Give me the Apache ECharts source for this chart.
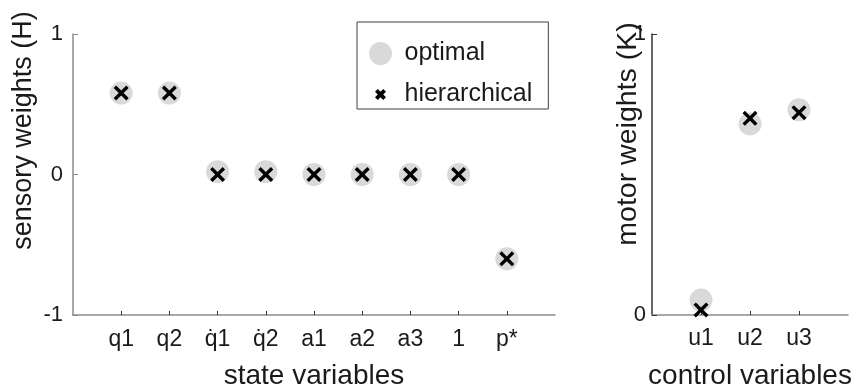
<!DOCTYPE html>
<html><head><meta charset="utf-8">
<script src="https://cdn.jsdelivr.net/npm/echarts@6/dist/echarts.min.js"></script>
<style>html,body{margin:0;padding:0;background:#fff}#c{width:859px;height:389px}</style>
</head><body><div id="c"></div>
<script>
// ---- data ----
const stateVars = ['q1', 'q2', 'q\u03071', 'q\u03072', 'a1', 'a2', 'a3', '1', 'p*'];
const sensoryOptimal = [0.58, 0.58, 0.02, 0.02, 0, 0, 0, 0, -0.6];
const sensoryHier = [0.58, 0.58, 0, 0, 0, 0, 0, 0, -0.6];
const controlVars = ['u1', 'u2', 'u3'];
const motorOptimal = [0.053, 0.68, 0.73];
const motorHier = [0.018, 0.70, 0.72];
const sensoryRange = [-1, 1];
const motorRange = [0, 1];

// ---- styling ----
const FONT = 'Liberation Sans, Arial, sans-serif';
const CROSS = 'path://M0,1.6 L1.6,0 L5,3.4 L8.4,0 L10,1.6 L6.6,5 L10,8.4 L8.4,10 L5,6.6 L1.6,10 L0,8.4 L3.4,5 Z';
const CROSS_ICON = 'path://M-5.5,-5.5 L-5.5,-5.5 M15.5,15.5 L15.5,15.5 M0,2.5 L2.5,0 L5,2.5 L7.5,0 L10,2.5 L7.5,5 L10,7.5 L7.5,10 L5,7.5 L2.5,10 L0,7.5 L2.5,5 Z';
const GREY = '#d9d9d9';
const TXT = '#1a1a1a';

const pad = arr => [' ', ...arr, '  '];
const tickIv = n => (i) => i > 0 && i < n - 1;

const chart = echarts.init(document.getElementById('c'), null, {renderer: 'canvas'});
chart.setOption({
  animation: false,
  backgroundColor: '#fff',
  textStyle: {fontFamily: FONT},
  grid: [
    {left: 73, top: 34, width: 482, height: 281, containLabel: false, outerBoundsMode: 'none'},
    {left: 652, top: 34, width: 196, height: 281, containLabel: false, outerBoundsMode: 'none'}
  ],
  legend: {
    orient: 'vertical', left: 357, top: 22,
    padding: [19, 16, 2, 12],
    itemWidth: 38, itemHeight: 23, itemGap: 16,
    borderColor: '#404040', borderWidth: 1,
    textStyle: {fontSize: 25, color: TXT, fontFamily: FONT, lineHeight: 23},
    data: [{name: 'optimal', icon: 'circle'}, {name: 'hierarchical', icon: CROSS_ICON}]
  },
  xAxis: [
    {
      gridIndex: 0, type: 'category', boundaryGap: false, data: pad(stateVars),
      name: 'state variables', nameLocation: 'middle', nameGap: 47, nameMoveOverlap: false,
      nameTextStyle: {fontSize: 28, color: TXT, fontFamily: FONT},
      axisLine: {onZero: false, lineStyle: {color: '#8c8c8c', width: 1.5}},
      axisTick: {inside: true, length: 4, interval: tickIv(stateVars.length + 2), lineStyle: {color: '#333'}},
      axisLabel: {interval: 0, fontSize: 23, color: TXT, margin: 13, fontFamily: FONT},
      splitLine: {show: false}
    },
    {
      gridIndex: 1, type: 'category', boundaryGap: false, data: pad(controlVars),
      name: 'control variables', nameLocation: 'middle', nameGap: 47, nameMoveOverlap: false,
      nameTextStyle: {fontSize: 28, color: TXT, fontFamily: FONT},
      axisLine: {onZero: false, lineStyle: {color: '#8c8c8c', width: 1.5}},
      axisTick: {inside: true, length: 4, interval: tickIv(controlVars.length + 2), lineStyle: {color: '#333'}},
      axisLabel: {interval: 0, fontSize: 23, color: TXT, margin: 12, fontFamily: FONT},
      splitLine: {show: false}
    }
  ],
  yAxis: [
    {
      gridIndex: 0, type: 'value', min: sensoryRange[0], max: sensoryRange[1], interval: 1,
      name: 'sensory weights (H)', nameLocation: 'middle', nameGap: 36, nameRotate: 90, nameMoveOverlap: false,
      nameTextStyle: {fontSize: 27, color: TXT, fontFamily: FONT, padding: [0, 0, 0, 88]},
      axisLine: {show: true, onZero: false, lineStyle: {color: '#8c8c8c', width: 1.5}},
      axisTick: {show: true, inside: true, length: 5, lineStyle: {color: '#8c8c8c'}},
      axisLabel: {fontSize: 22, color: TXT, margin: 10, fontFamily: FONT},
      splitLine: {show: false}
    },
    {
      gridIndex: 1, type: 'value', min: motorRange[0], max: motorRange[1], interval: 1,
      name: 'motor weights (K)', nameLocation: 'middle', nameGap: 9, nameRotate: 90, nameMoveOverlap: false,
      nameTextStyle: {fontSize: 28.5, color: TXT, fontFamily: FONT, padding: [0, 0, 0, 81]},
      axisLine: {show: true, onZero: false, lineStyle: {color: '#333', width: 1.5}},
      axisTick: {show: true, inside: true, length: 5, lineStyle: {color: '#333'}},
      axisLabel: {fontSize: 22, color: TXT, margin: 6, fontFamily: FONT},
      splitLine: {show: false}
    }
  ],
  series: [
    {
      name: 'optimal', type: 'scatter', xAxisIndex: 0, yAxisIndex: 0,
      symbol: 'circle', symbolSize: 23, itemStyle: {color: GREY, opacity: 1}, z: 2,
      data: stateVars.map((c, i) => [c, sensoryOptimal[i]])
    },
    {
      name: 'hierarchical', type: 'scatter', xAxisIndex: 0, yAxisIndex: 0,
      symbol: CROSS, symbolSize: 15, itemStyle: {color: '#000', opacity: 1}, z: 3,
      data: stateVars.map((c, i) => [c, sensoryHier[i]])
    },
    {
      name: 'optimal', type: 'scatter', xAxisIndex: 1, yAxisIndex: 1,
      symbol: 'circle', symbolSize: 23, itemStyle: {color: GREY, opacity: 1}, z: 2,
      data: controlVars.map((c, i) => [c, motorOptimal[i]])
    },
    {
      name: 'hierarchical', type: 'scatter', xAxisIndex: 1, yAxisIndex: 1,
      symbol: CROSS, symbolSize: 15, itemStyle: {color: '#000', opacity: 1}, z: 3,
      data: controlVars.map((c, i) => [c, motorHier[i]])
    }
  ]
});
</script>
</body></html>
